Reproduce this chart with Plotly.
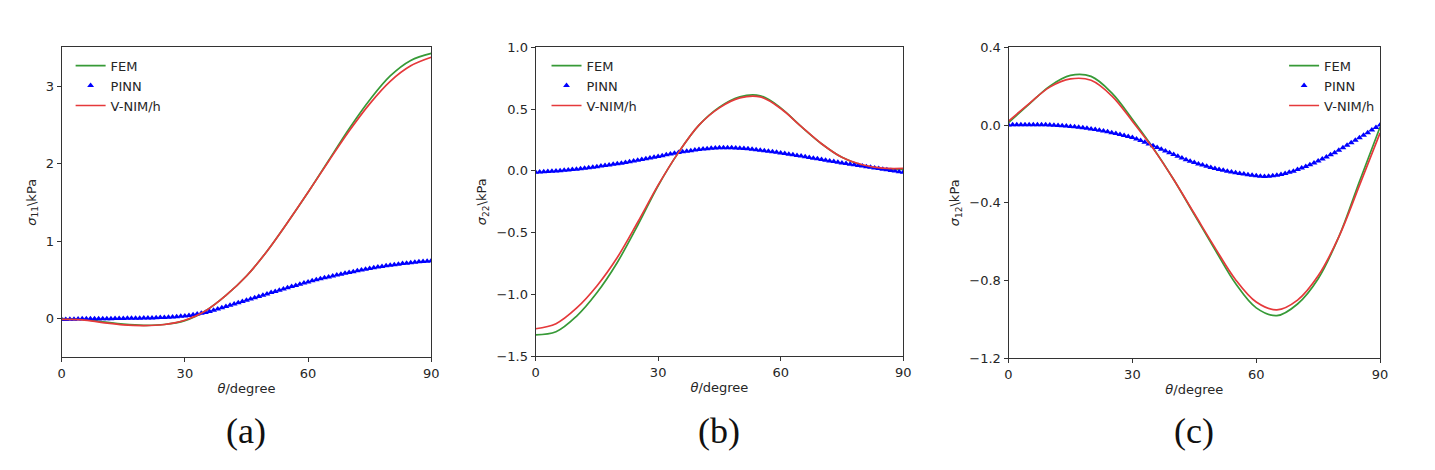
import plotly.graph_objects as go

# Figure size chosen so the page (with the default 8px body margin) is 1435x470.
W, H = 1419, 454
# Measured mapping from figure pixels to photographed pixels: photo = A + S * fig
AX_X, SX = 10.0, 0.998
AY_Y, SY = 17.0, 0.96

# ---------------- data ----------------
theta_line = [0, 5, 10, 15, 20, 25, 30, 35, 40, 45, 50, 55, 60, 65, 70, 75, 80, 85, 90]
theta_pinn = list(range(0, 91))

# (a) sigma_11
fem_a = [0.0, -0.01, -0.04, -0.07, -0.085, -0.075, -0.025, 0.1, 0.3, 0.55, 0.87, 1.24, 1.63, 2.04, 2.45, 2.82, 3.13, 3.33, 3.42]
vnim_a = [-0.01, -0.015, -0.05, -0.08, -0.09, -0.075, -0.02, 0.1, 0.3, 0.55, 0.87, 1.24, 1.63, 2.03, 2.42, 2.77, 3.06, 3.26, 3.37]
pinn_a = [-0.01, -0.01, -0.008, -0.006, -0.004, -0.002, 0, 0, 0, 0,
          0, 0, 0, 0.001, 0.002, 0.003, 0.004, 0.005, 0.006, 0.007,
          0.008, 0.009, 0.01, 0.012, 0.014, 0.016, 0.019, 0.022, 0.026, 0.03,
          0.035, 0.042, 0.05, 0.059, 0.069, 0.08, 0.093, 0.108, 0.124, 0.14,
          0.156, 0.172, 0.189, 0.205, 0.222, 0.238, 0.254, 0.271, 0.287, 0.303,
          0.319, 0.336, 0.352, 0.368, 0.384, 0.399, 0.414, 0.429, 0.444, 0.459,
          0.474, 0.488, 0.501, 0.514, 0.527, 0.539, 0.551, 0.563, 0.574, 0.585,
          0.595, 0.606, 0.617, 0.627, 0.637, 0.647, 0.656, 0.665, 0.673, 0.681,
          0.689, 0.696, 0.703, 0.71, 0.716, 0.722, 0.728, 0.733, 0.738, 0.742,
          0.746]

# (b) sigma_22
fem_b = [-1.325, -1.30, -1.175, -0.985, -0.74, -0.44, -0.12, 0.15, 0.37, 0.516, 0.60, 0.608, 0.51, 0.36, 0.22, 0.11, 0.045, 0.015, 0.013]
vnim_b = [-1.276, -1.235, -1.11, -0.93, -0.70, -0.415, -0.115, 0.15, 0.37, 0.51, 0.59, 0.598, 0.505, 0.36, 0.22, 0.11, 0.05, 0.022, 0.02]
pinn_b = [-0.01, -0.009, -0.007, -0.005, -0.003, -0.001, 0.002, 0.005, 0.008, 0.011,
          0.014, 0.018, 0.022, 0.026, 0.03, 0.034, 0.039, 0.043, 0.048, 0.053,
          0.058, 0.063, 0.068, 0.074, 0.08, 0.086, 0.092, 0.098, 0.104, 0.11,
          0.116, 0.123, 0.13, 0.136, 0.142, 0.148, 0.154, 0.159, 0.164, 0.169,
          0.173, 0.177, 0.18, 0.183, 0.185, 0.187, 0.188, 0.188, 0.187, 0.186,
          0.184, 0.182, 0.179, 0.176, 0.172, 0.168, 0.164, 0.16, 0.155, 0.15,
          0.145, 0.14, 0.135, 0.13, 0.125, 0.12, 0.114, 0.109, 0.103, 0.098,
          0.092, 0.087, 0.081, 0.076, 0.07, 0.065, 0.06, 0.054, 0.049, 0.044,
          0.039, 0.034, 0.029, 0.024, 0.019, 0.014, 0.009, 0.004, -0.001, -0.006,
          -0.011]

# (c) sigma_12
fem_c = [0.012, 0.107, 0.20, 0.255, 0.25, 0.165, 0.03, -0.117, -0.28, -0.46, -0.64, -0.815, -0.94, -0.98, -0.92, -0.79, -0.575, -0.29, -0.01]
vnim_c = [0.02, 0.11, 0.195, 0.237, 0.23, 0.15, 0.02, -0.12, -0.28, -0.455, -0.63, -0.795, -0.91, -0.95, -0.90, -0.775, -0.575, -0.31, -0.04]
pinn_c = [0, 0.001, 0.002, 0.002, 0.002, 0.002, 0.002, 0.002, 0.001, 0.001,
          0, -0.001, -0.002, -0.004, -0.005, -0.007, -0.009, -0.011, -0.014, -0.017,
          -0.02, -0.023, -0.027, -0.031, -0.035, -0.039, -0.044, -0.049, -0.054, -0.059,
          -0.064, -0.072, -0.08, -0.088, -0.097, -0.106, -0.115, -0.124, -0.133, -0.142,
          -0.151, -0.16, -0.169, -0.178, -0.186, -0.193, -0.2, -0.206, -0.212, -0.218,
          -0.223, -0.228, -0.233, -0.237, -0.241, -0.245, -0.249, -0.252, -0.255, -0.258,
          -0.261, -0.263, -0.264, -0.263, -0.261, -0.258, -0.254, -0.249, -0.243, -0.237,
          -0.229, -0.221, -0.213, -0.204, -0.195, -0.185, -0.175, -0.164, -0.153, -0.142,
          -0.13, -0.117, -0.104, -0.091, -0.078, -0.065, -0.052, -0.039, -0.026, -0.013,
          0.0]

x_ticks = [0, 30, 60, 90]
y_ticks_a = [0, 1, 2, 3]
y_ticks_b = [-1.5, -1.0, -0.5, 0.0, 0.5, 1.0]
y_ticks_c = [-1.2, -0.8, -0.4, 0.0, 0.4]
y_titles = ["<i>σ</i><sub>11</sub>\\kPa", "<i>σ</i><sub>22</sub>\\kPa", "<i>σ</i><sub>12</sub>\\kPa"]
captions = ["(a)", "(b)", "(c)"]
series_names = ["FEM", "PINN", "V-NIM/h"]

# ---------------- styling ----------------
GREEN = "#379a37"
RED = "#e5393b"
BLUE = "#0000ff"
AXC = "#333333"
TXT = "#262626"
FONT = "DejaVu Sans"

def px_x(p):  # target photo pixel -> paper x
    return ((p - AX_X) / SX) / W

def px_y(p):  # target photo pixel -> paper y
    return 1 - ((p - AY_Y) / SY) / H

panels = [
    dict(x0=60, x1=432, y0=49, y1=357, fem=fem_a, vnim=vnim_a, pinn=pinn_a,
         yr=[-0.5, 3.5], yt=y_ticks_a, fmt="d", leg=(69, 52.5, "left")),
    dict(x0=537, x1=907, y0=49, y1=356, fem=fem_b, vnim=vnim_b, pinn=pinn_b,
         yr=[-1.5, 1.0], yt=y_ticks_b, fmt=".1f", leg=(548, 52.5, "left")),
    dict(x0=1013, x1=1387, y0=49, y1=358, fem=fem_c, vnim=vnim_c, pinn=pinn_c,
         yr=[-1.2, 0.4], yt=y_ticks_c, fmt=".1f", leg=(1387, 52.5, "right")),
]

fig = go.Figure()
layout = dict(
    width=W, height=H,
    margin=dict(l=0, r=0, t=0, b=0),
    paper_bgcolor="white", plot_bgcolor="white",
    font=dict(family=FONT, size=13, color=TXT),
    annotations=[],
)

for i, p in enumerate(panels):
    k = "" if i == 0 else str(i + 1)
    xa, ya = "x" + k, "y" + k
    leg = "legend" + k
    fig.add_trace(go.Scatter(x=theta_line, y=p["fem"], mode="lines", name=series_names[0],
                             line=dict(color=GREEN, width=1.7, shape="spline", smoothing=1.0),
                             xaxis=xa, yaxis=ya, legend=leg))
    fig.add_trace(go.Scatter(x=theta_pinn, y=p["pinn"], mode="markers", name=series_names[1],
                             marker=dict(color=BLUE, size=6, symbol="triangle-up", line=dict(width=0)),
                             xaxis=xa, yaxis=ya, legend=leg))
    fig.add_trace(go.Scatter(x=theta_line, y=p["vnim"], mode="lines", name=series_names[2],
                             line=dict(color=RED, width=1.7, shape="spline", smoothing=1.0),
                             xaxis=xa, yaxis=ya, legend=leg))

    layout["xaxis" + k] = dict(
        domain=[px_x(p["x0"]), px_x(p["x1"])], anchor=ya, range=[0, 90],
        tickvals=x_ticks, ticks="outside", ticklen=4, tickcolor=AXC,
        showline=True, linecolor=AXC, linewidth=1, mirror=True,
        showgrid=False, zeroline=False,
        tickfont=dict(family=FONT, size=13, color=TXT),
        title=dict(text="<i>θ</i>/degree", standoff=3, font=dict(family=FONT, size=13, color=TXT)),
    )
    layout["yaxis" + k] = dict(
        domain=[px_y(p["y1"]), px_y(p["y0"])], anchor=xa, range=p["yr"],
        tickvals=p["yt"], tickformat=p["fmt"], ticks="outside", ticklen=4, tickcolor=AXC,
        showline=True, linecolor=AXC, linewidth=1, mirror=True,
        showgrid=False, zeroline=False,
        tickfont=dict(family=FONT, size=13, color=TXT),
        title=dict(text=y_titles[i], standoff=6, font=dict(family=FONT, size=13, color=TXT)),
    )
    lx, ly, anchor = p["leg"]
    layout[leg] = dict(
        x=px_x(lx), y=px_y(ly), xanchor=anchor, yanchor="top",
        bgcolor="rgba(255,255,255,0)", borderwidth=0,
        font=dict(family=FONT, size=13, color=TXT),
        tracegroupgap=0, itemwidth=30,
    )
    layout["annotations"].append(dict(
        x=px_x((p["x0"] + p["x1"]) / 2), y=px_y(430), xref="paper", yref="paper",
        text=captions[i], showarrow=False, xanchor="center", yanchor="middle",
        font=dict(family="Liberation Serif", size=36, color="#111111"),
    ))

fig.update_layout(**layout)
fig.write_html("out.html")
